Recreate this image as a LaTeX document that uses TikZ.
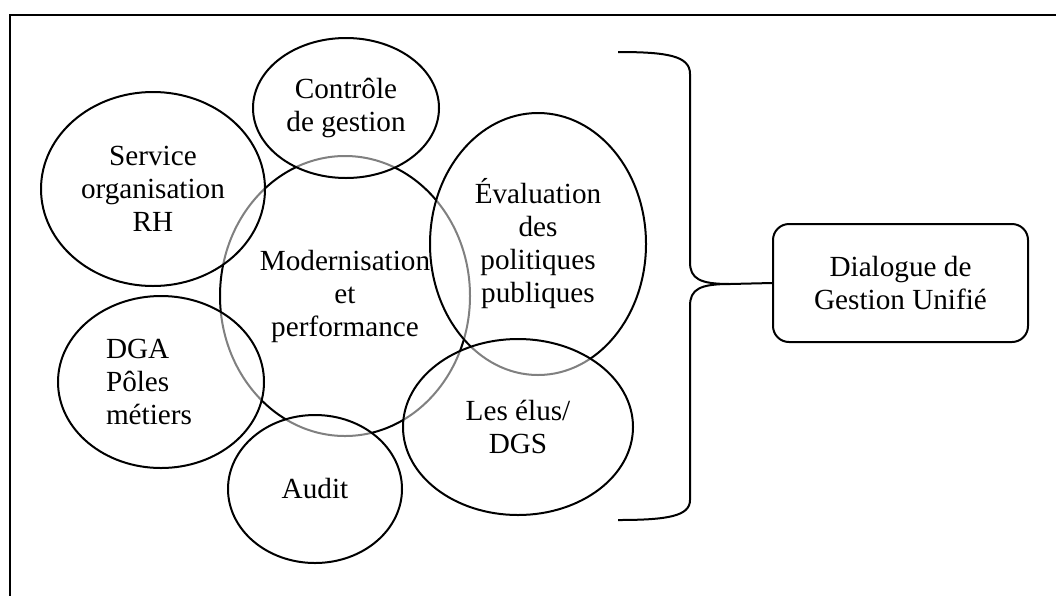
\documentclass[tikz,border=0pt]{standalone}
\usepackage{fontspec}
\setmainfont{Liberation Serif}
\usetikzlibrary{shapes.geometric}
\begin{document}
\begin{tikzpicture}[x=1pt,y=-1pt,
  every node/.style={font=\fontsize{29.2}{33}\selectfont, align=center, inner sep=0pt},
  bubble/.style={ellipse, draw=black, line width=2pt, fill=white, fill opacity=0.5, text opacity=1},
  hub/.style={ellipse, draw=black, line width=2pt},
  dlgbox/.style={rectangle, rounded corners=16pt, draw=black, line width=2pt, minimum width=255pt, minimum height=118pt},
  brace/.style={draw=black, line width=2pt}
]
\useasboundingbox (0,0) rectangle (1056,595);
% outer frame (clipped by the page)
\draw[line width=2.5pt] (10,600) -- (10,15) -- (1060,15);

% central
\node[hub, minimum width=250pt, minimum height=280pt] (hubn) at (345,296) {Modernisation\\et\\performance};

% surrounding
\node[bubble, minimum width=186pt, minimum height=140pt] (ctrl) at (346,108) {Contrôle\\de gestion};
\node[bubble, minimum width=224pt, minimum height=194pt] (serv) at (153,189) {Service\\organisation\\RH};
\node[bubble, minimum width=216pt, minimum height=262pt] (eval) at (538,244) {Évaluation\\des\\politiques\\publiques};
\node[bubble, minimum width=206pt, minimum height=172pt, align=left] (dga) at (161,382) {DGA\\Pôles\\métiers\hspace*{24pt}};
\node[bubble, minimum width=174pt, minimum height=148pt] (audit) at (315,489) {Audit};
\node[bubble, minimum width=230pt, minimum height=176pt] (elus) at (518,427) {Les élus/\\DGS};

% brace
\coordinate (tip) at (730,284);
\draw[brace] (618,52) .. controls (668,52) and (690,56) .. (690,74) -- (690,262)
  .. controls (690,279) and (700,284) .. (tip)
  .. controls (700,284) and (690,289) .. (690,306) -- (690,500)
  .. controls (690,516) and (668,520) .. (618,520);

% box
\node[dlgbox] (dlg) at (900.5,283) {Dialogue de\\Gestion Unifié};
\draw[brace] (tip) -- (dlg.west);
\end{tikzpicture}
\end{document}
